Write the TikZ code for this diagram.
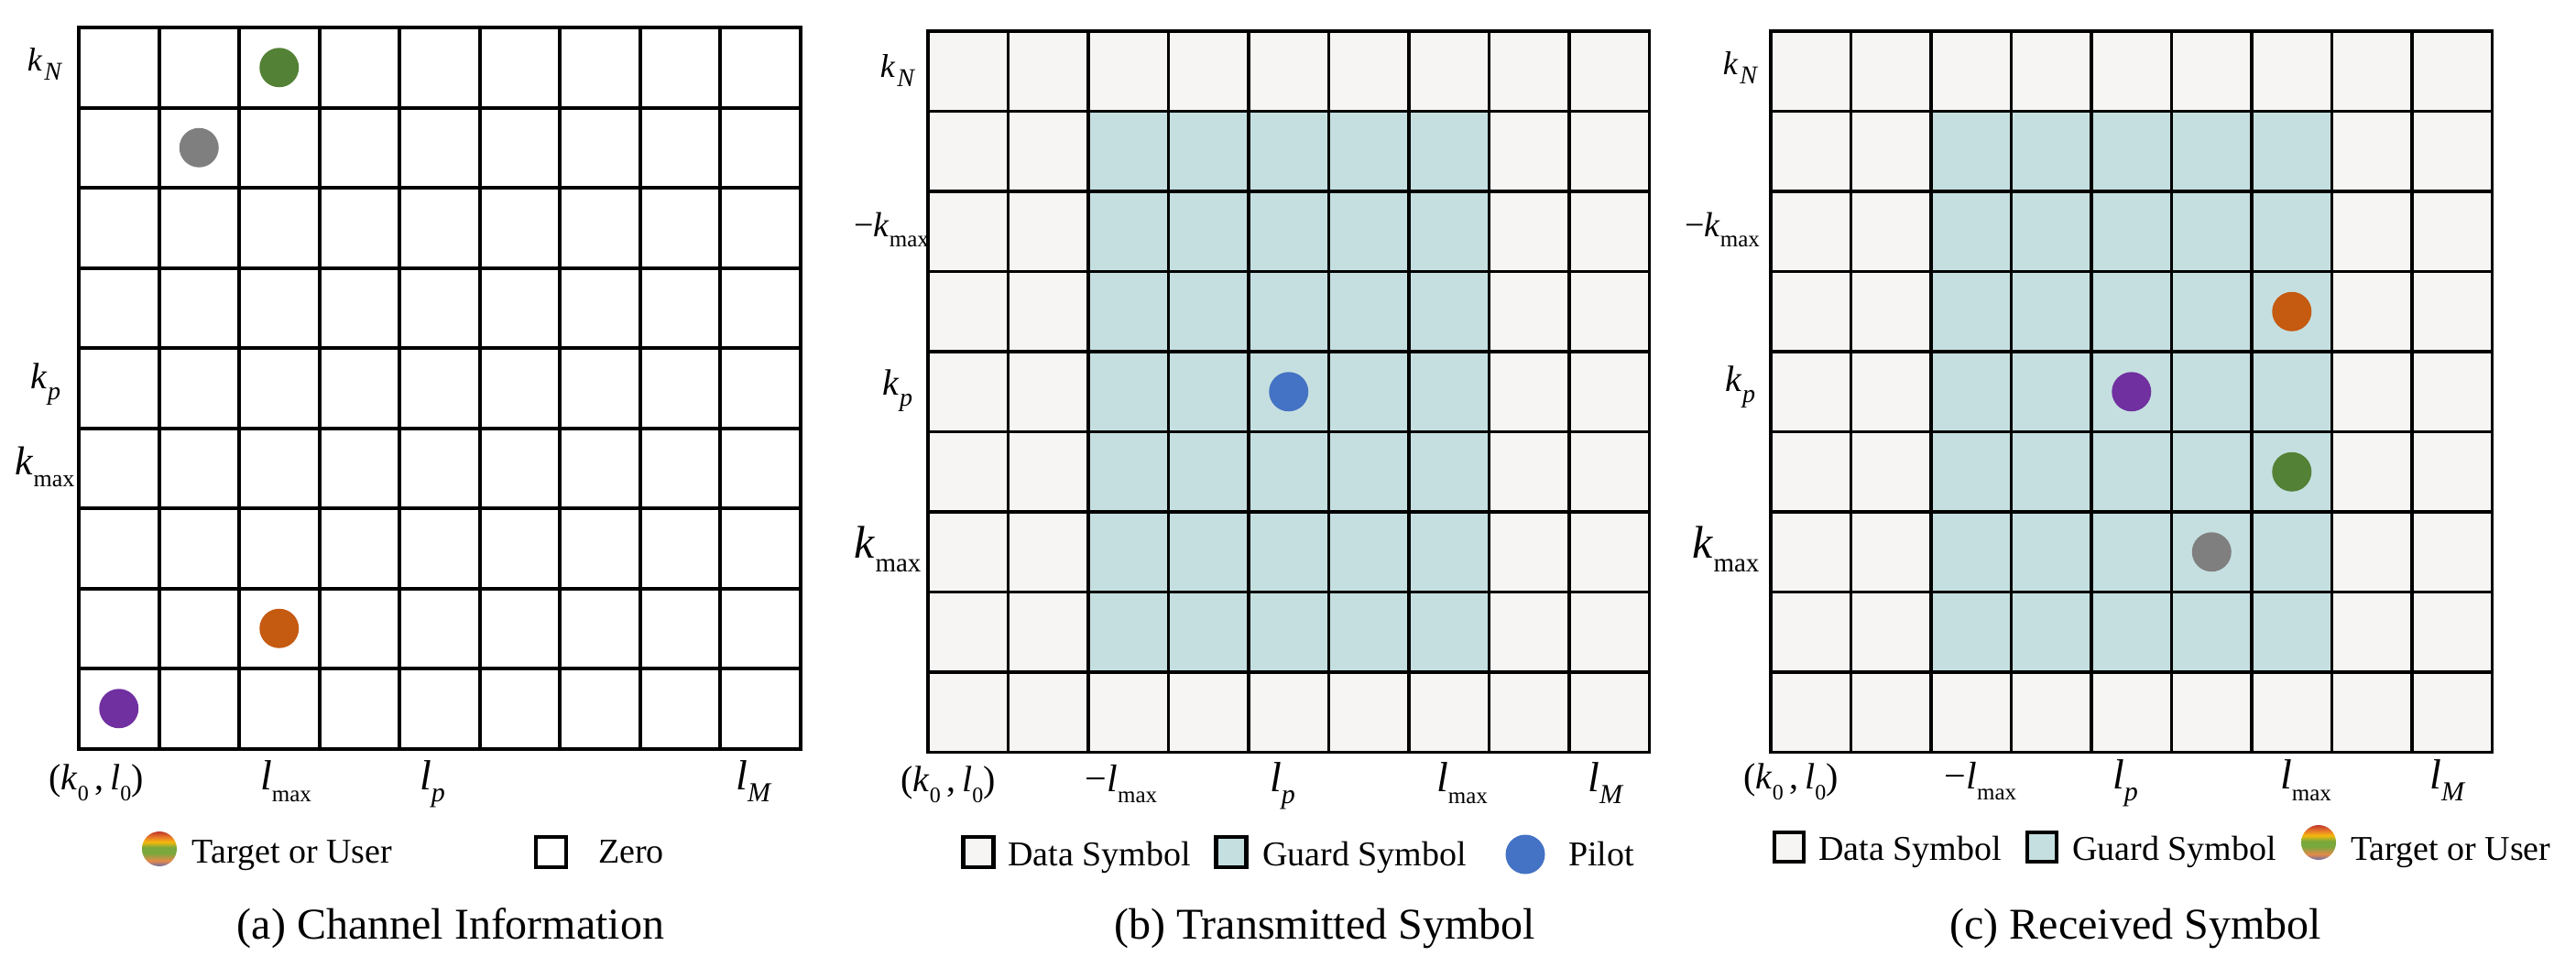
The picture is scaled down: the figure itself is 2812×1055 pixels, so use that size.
\documentclass[tikz,border=0pt]{standalone}
\usepackage{fontspec}
\setmainfont{Liberation Serif}
\definecolor{dataC}{HTML}{F6F5F3}
\definecolor{guardC}{HTML}{C5DFE0}
\definecolor{dGreen}{HTML}{538135}
\definecolor{dGray}{HTML}{7F7F7F}
\definecolor{dOrange}{HTML}{C55A11}
\definecolor{dPurple}{HTML}{7030A0}
\definecolor{pBlue}{HTML}{4472C4}
\definecolor{rbR}{HTML}{C0392B}
\definecolor{rbO}{HTML}{E8792A}
\definecolor{rbY}{HTML}{F5B90C}
\definecolor{rbG}{HTML}{79A83C}
\definecolor{rbO2}{HTML}{E58A4A}
\definecolor{rbB}{HTML}{6B6FA6}
\pgfdeclareverticalshading{rainbow}{100bp}{color(0bp)=(rbB); color(25bp)=(rbB); color(33bp)=(rbO2); color(44bp)=(rbG); color(52bp)=(rbG); color(60bp)=(rbY); color(67bp)=(rbO); color(75bp)=(rbR); color(100bp)=(rbR)}
\newcommand\sz[1]{\fontsize{#1}{#1}\selectfont}
\newcommand\sbx[2]{\raisebox{-0.3em}{\sz{#1}#2}}
\begin{document}
\begin{tikzpicture}[x=1pt,y=-1pt,
  gridA/.style={line width=4pt, line cap=rect},
  gridB/.style={line width=3.5pt, line cap=rect},
  dot/.style={circle, minimum size=43pt, inner sep=0, draw=none},
  legdot/.style={circle, minimum size=38pt, inner sep=0, draw=none, shading=rainbow},
  legsq/.style={draw, line width=4.5pt, minimum size=33pt, inner sep=0},
  lab/.style={inner sep=0, anchor=base},
  legtext/.style={inner sep=0, anchor=base west, font=\sz{38}},
  capt/.style={inner sep=0, anchor=base, font=\sz{48}}]
\useasboundingbox (0,0) rectangle (2812,1055);
\fill[white] (0,0) rectangle (2812,1055);

% ---------- panel (a) ----------
\foreach \i in {0,...,9}{
  \draw[gridA] ({86+87.5*\i},30) -- ({86+87.5*\i},817.5);
  \draw[gridA] (86,{30+87.5*\i}) -- (873.5,{30+87.5*\i});
}
\node[dot, fill=dGreen]  (a-green)  at ({86+87.5*2.5},{30+87.5*0.5}) {};
\node[dot, fill=dGray]   (a-gray)   at ({86+87.5*1.5},{30+87.5*1.5}) {};
\node[dot, fill=dOrange] (a-orange) at ({86+87.5*2.5},{30+87.5*7.5}) {};
\node[dot, fill=dPurple] (a-purple) at ({86+87.5*0.5},{30+87.5*8.5}) {};

\node[lab] (a-kN)   at (49,77)  {\sz{36}\textit{k}\kern2pt\sbx{28}{\textit{N}}};
\node[lab] (a-kp)   at (50,424) {\sz{40}\textit{k}\sbx{28}{\textit{p}}};
\node[lab] (a-kmax) at (49,518) {\sz{44}\textit{k}\sbx{26}{max}};
\node[lab] (a-k0l0) at (105,862) {\sz{40}(\textit{k}\sbx{24}{0}\,,\,\textit{l}\sbx{24}{0})};
\node[lab] (a-lmax) at (312,862) {\sz{46}\textit{l}\sbx{25}{max}};
\node[lab] (a-lp)   at (472,862) {\sz{46}\textit{l}\sbx{30}{\textit{p}}};
\node[lab] (a-lM)   at (823,862) {\sz{46}\textit{l}\sbx{30}{\textit{M}}};

\node[legdot] (a-legdot) at (174,927) {};
\node[legtext] (a-legt) at (209.5,942) {Target or User};
\node[legsq] (a-zero) at (601.5,930.5) {};
\node[legtext] (a-legz) at (653,942) {Zero};
\node[capt] (a-cap) at (492,1025) {(a) Channel Information};

% ---------- panel (b) ----------
\fill[dataC] (1013,34) rectangle (1800.5,821.5);
\fill[guardC] (1188,121.5) rectangle (1625.5,734);
\foreach \i in {0,...,9}{
  \draw[gridB] ({1013+87.5*\i},34) -- ({1013+87.5*\i},821.5);
  \draw[gridB] (1013,{34+87.5*\i}) -- (1800.5,{34+87.5*\i});
}
\node[dot, fill=pBlue] (b-pilot) at ({1013+87.5*4.5},{34+87.5*4.5}) {};

\node[lab] (b-kN)    at (980,84)  {\sz{36}\textit{k}\kern2pt\sbx{28}{\textit{N}}};
\node[lab] (b-mkmax) at (973,258) {\sz{38}−\textit{k}\sbx{25}{max}};
\node[lab] (b-kp)    at (980,431) {\sz{40}\textit{k}\sbx{28}{\textit{p}}};
\node[lab] (b-kmax)  at (969,609) {\sz{50}\textit{k}\sbx{29}{max}};
\node[lab] (b-k0l0)  at (1035,864) {\sz{40}(\textit{k}\sbx{24}{0}\,,\,\textit{l}\sbx{24}{0})};
\node[lab] (b-mlmax) at (1224,864) {\sz{42}−\textit{l}\sbx{25}{max}};
\node[lab] (b-lp)    at (1400,864) {\sz{46}\textit{l}\sbx{30}{\textit{p}}};
\node[lab] (b-lmax)  at (1596,864) {\sz{46}\textit{l}\sbx{25}{max}};
\node[lab] (b-lM)    at (1753,864) {\sz{46}\textit{l}\sbx{30}{\textit{M}}};

\node[legsq, fill=dataC] (b-legd) at (1068,930.5) {};
\node[legtext] (b-legdt) at (1100,945) {Data Symbol};
\node[legsq, fill=guardC] (b-legg) at (1344,930.5) {};
\node[legtext] (b-leggt) at (1378,945) {Guard Symbol};
\node[dot, fill=pBlue] (b-legp) at (1665,933) {};
\node[legtext] (b-legpt) at (1712,945) {Pilot};
\node[capt] (b-cap) at (1446,1025) {(b) Transmitted Symbol};

% ---------- panel (c) ----------
\fill[dataC] (1933,34) rectangle (2720.5,821.5);
\fill[guardC] (2108,121.5) rectangle (2545.5,734);
\foreach \i in {0,...,9}{
  \draw[gridB] ({1933+87.5*\i},34) -- ({1933+87.5*\i},821.5);
  \draw[gridB] (1933,{34+87.5*\i}) -- (2720.5,{34+87.5*\i});
}
\node[dot, fill=dOrange] (c-orange) at ({1933+87.5*6.5},{34+87.5*3.5}) {};
\node[dot, fill=dPurple] (c-purple) at ({1933+87.5*4.5},{34+87.5*4.5}) {};
\node[dot, fill=dGreen]  (c-green)  at ({1933+87.5*6.5},{34+87.5*5.5}) {};
\node[dot, fill=dGray]   (c-gray)   at ({1933+87.5*5.5},{34+87.5*6.5}) {};

\node[lab] (c-kN)    at (1900,81)  {\sz{36}\textit{k}\kern2pt\sbx{28}{\textit{N}}};
\node[lab] (c-mkmax) at (1880,258) {\sz{38}−\textit{k}\sbx{25}{max}};
\node[lab] (c-kp)    at (1900,427) {\sz{40}\textit{k}\sbx{28}{\textit{p}}};
\node[lab] (c-kmax)  at (1884,609) {\sz{50}\textit{k}\sbx{29}{max}};
\node[lab] (c-k0l0)  at (1955,861) {\sz{40}(\textit{k}\sbx{24}{0}\,,\,\textit{l}\sbx{24}{0})};
\node[lab] (c-mlmax) at (2162,861) {\sz{42}−\textit{l}\sbx{25}{max}};
\node[lab] (c-lp)    at (2320,861) {\sz{46}\textit{l}\sbx{30}{\textit{p}}};
\node[lab] (c-lmax)  at (2517,861) {\sz{46}\textit{l}\sbx{25}{max}};
\node[lab] (c-lM)    at (2672,861) {\sz{46}\textit{l}\sbx{30}{\textit{M}}};

\node[legsq, minimum size=32pt, fill=dataC] (c-legd) at (1953,925) {};
\node[legtext] (c-legdt) at (1985,939) {Data Symbol};
\node[legsq, minimum size=32pt, fill=guardC] (c-legg) at (2229,925) {};
\node[legtext] (c-leggt) at (2262,939) {Guard Symbol};
\node[legdot] (c-legdot) at (2531,920) {};
\node[legtext] (c-legtt) at (2566,939) {Target or User};
\node[capt] (c-cap) at (2331,1025) {(c) Received Symbol};
\end{tikzpicture}
\end{document}
